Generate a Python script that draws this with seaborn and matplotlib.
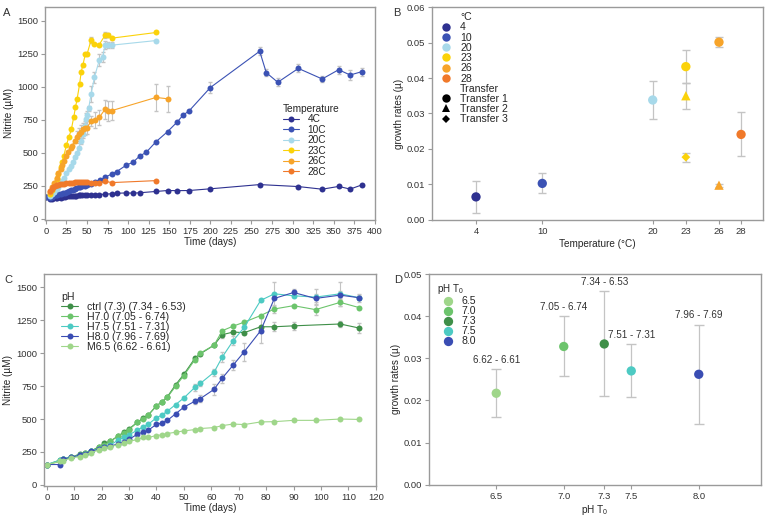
import numpy as np
import pandas as pd
import matplotlib
matplotlib.use("Agg")
import matplotlib.pyplot as plt
import seaborn as sns

# ---------------- Panel A: nitrite over time by temperature ----------------
temp_labels = ["4C", "10C", "20C", "23C", "26C", "28C"]
temp_colors = ["#2e3190", "#3b52b4", "#a7d9ea", "#fbd20a", "#f7a42a", "#f0792a"]

t4 = [0, 5, 7, 9, 12, 14, 16, 19, 21, 23, 26, 28, 30, 33, 35, 37, 40, 42, 44, 47, 50,
      55, 60, 65, 72, 80, 86, 98, 106, 114, 134, 148, 160, 174, 200, 260, 307, 336,
      356, 370, 384]
v4 = [164, 148, 152, 156, 158, 160, 163, 162, 166, 165, 170, 170, 172, 174, 176, 176,
      178, 180, 181, 180, 178, 180, 178, 184, 188, 190, 194, 197, 195, 198, 208, 215,
      214, 215, 228, 260, 245, 225, 246, 226, 257]
e4 = [0] * len(t4)

t10 = [0, 5, 7, 9, 12, 14, 16, 19, 21, 23, 26, 28, 30, 33, 35, 37, 40, 42, 44, 47, 50,
       55, 60, 66, 72, 80, 86, 98, 106, 114, 122, 134, 148, 160, 167, 174, 200, 260,
       268, 282, 307, 336, 356, 370, 384]
v10 = [164, 160, 168, 172, 178, 182, 186, 190, 196, 200, 206, 212, 216, 222, 228, 232,
       238, 242, 248, 252, 258, 268, 280, 295, 315, 340, 358, 408, 429, 476, 504, 585,
       661, 736, 787, 817, 995, 1270, 1108, 1035, 1140, 1060, 1130, 1090, 1115]
e10 = [0] * 36 + [40, 30, 25, 30, 30, 25, 30, 40, 30]

t20 = [5, 8, 10, 13, 15, 18, 20, 22, 25, 28, 30, 33, 35, 38, 40, 43, 45, 47, 49, 50,
       52, 55, 59, 65, 69, 72, 76, 80, 134]
v20 = [175, 190, 205, 225, 245, 270, 290, 310, 345, 380, 400, 430, 470, 500, 540, 590,
       640, 700, 760, 785, 837, 943, 1072, 1203, 1228, 1316, 1316, 1316, 1351]
e20 = [0] * 15 + [20, 30, 30, 40, 30, 20, 60, 40, 45, 40, 30, 25, 25, 0]

t23 = [5, 8, 10, 13, 15, 18, 20, 22, 25, 28, 31, 34, 36, 38, 41, 43, 45, 48, 50, 55,
       59, 65, 72, 76, 80, 134]
v23 = [185, 220, 250, 300, 340, 390, 430, 480, 560, 620, 678, 774, 845, 908, 1019,
       1114, 1165, 1248, 1246, 1354, 1324, 1321, 1392, 1394, 1369, 1412]
e23 = [0] * 19 + [25, 0, 0, 20, 15, 10, 0]

t26 = [5, 8, 10, 13, 15, 18, 20, 22, 25, 27, 30, 32, 35, 38, 40, 43, 45, 48, 50, 55,
       60, 65, 72, 76, 80, 134, 148]
v26 = [205, 240, 270, 310, 350, 380, 410, 440, 480, 510, 540, 555, 590, 620, 640, 660,
       680, 690, 690, 740, 750, 770, 830, 820, 820, 920, 910]
e26 = [0] * 13 + [45, 50, 50, 50, 55, 50, 40, 60, 55, 70, 75, 70, 100, 100]

t28 = [5, 7, 9, 11, 13, 15, 17, 20, 22, 25, 28, 30, 33, 35, 38, 40, 43, 45, 48, 50,
       55, 60, 65, 72, 80, 134]
v28 = [210, 225, 240, 250, 255, 258, 262, 265, 268, 270, 272, 273, 275, 276, 278, 280,
       282, 280, 278, 278, 275, 275, 272, 285, 275, 290]
e28 = [0] * len(t28)

# ---------------- Panel B: growth rates by temperature ----------------
b_temp = [4, 10, 20, 23, 23, 23, 26, 26, 28]
b_group = ["4", "10", "20", "23", "23", "23", "26", "26", "28"]
b_transfer = ["Transfer 1", "Transfer 1", "Transfer 1", "Transfer 1", "Transfer 2",
              "Transfer 3", "Transfer 1", "Transfer 2", "Transfer 1"]
b_rate = [0.0065, 0.0103, 0.0338, 0.0432, 0.0350, 0.0177, 0.0501, 0.0098, 0.0241]
b_low = [0.0020, 0.0075, 0.0285, 0.0387, 0.0312, 0.0163, 0.0486, 0.0094, 0.0180]
b_high = [0.0110, 0.0132, 0.0391, 0.0478, 0.0387, 0.0190, 0.0516, 0.0102, 0.0303]
b_levels = ["4", "10", "20", "23", "26", "28"]

# ---------------- Panel C: nitrite over time by pH ----------------
ph_labels = ["ctrl (7.3) (7.34 - 6.53)", "H7.0 (7.05 - 6.74)", "H7.5 (7.51 - 7.31)",
             "H8.0 (7.96 - 7.69)", "M6.5 (6.62 - 6.61)"]
ph_colors = ["#3f8f48", "#6cc46c", "#4dcac3", "#3a4db3", "#9fd68a"]

tc = [0, 5, 6, 9, 12, 14, 16, 19, 21, 23, 26, 28, 30, 33, 35, 37, 40, 42, 44, 47, 50,
      54, 56, 61, 64, 68, 72, 78, 83, 90, 98, 107, 114]
v_ctrl = [152, 190, 200, 210, 235, 240, 255, 290, 315, 330, 370, 400, 425, 475, 505,
          530, 600, 630, 670, 760, 840, 960, 995, 1060, 1140, 1160, 1155, 1200, 1200,
          1207, np.nan, 1221, 1190]
v_h70 = [152, 180, 195, 210, 230, 240, 255, 285, 305, 330, 370, 395, 420, 475, 500,
         530, 600, 630, 665, 750, 830, 950, 1000, 1060, 1170, 1205, 1235, 1285, 1335,
         1360, 1330, 1385, 1345]
v_h75 = [155, 190, 200, 210, 225, 235, 255, 275, 290, 300, 340, 360, 380, 415, 440,
         460, 510, 530, 560, 610, 660, 740, 770, 855, 970, 1095, 1195, 1400, 1450, 1435,
         1425, 1450, 1420]
v_h80 = [155, 155, 195, 210, 225, 235, 255, 270, 285, 295, 310, 325, 345, 385, 400,
         415, 460, 470, 490, 540, 590, 635, 655, 725, 810, 910, 1010, 1170, 1415, 1460,
         1415, 1440, 1420]
v_m65 = [155, 180, 185, 205, 215, 225, 245, 265, 280, 290, 305, 315, 330, 345, 360,
         360, 375, 380, 390, 400, 410, 420, 428, 435, 450, 462, 458, 478, 480, 490, 490,
         500, 497]
e_ctrl = [0] * 24 + [25, 0, 0, 0, 35, 30, 0, 25, 40]
e_h70 = [0] * 24 + [0, 0, 0, 0, 30, 0, 40, 30, 0]
e_h75 = [0] * 21 + [25, 20, 25, 35, 35, 40, 0, 90, 0, 60, 90, 30]
e_h80 = [0] * 20 + [15, 20, 25, 40, 35, 40, 70, 95, 0, 30, 30, 30, 20]
e_m65 = [0] * len(tc)

# ---------------- Panel D: growth rates by starting pH ----------------
d_ph = [6.5, 7.0, 7.3, 7.5, 8.0]
d_group = ["6.5", "7.0", "7.3", "7.5", "8.0"]
d_rate = [0.0217, 0.0328, 0.0334, 0.0270, 0.0262]
d_low = [0.0160, 0.0257, 0.0210, 0.0207, 0.0145]
d_high = [0.0275, 0.0400, 0.0460, 0.0333, 0.0380]
d_range = ["6.62 - 6.61", "7.05 - 6.74", "7.34 - 6.53", "7.51 - 7.31", "7.96 - 7.69"]
d_colors = ["#9fd68a", "#6cc46c", "#3f8f48", "#4dcac3", "#3a4db3"]

# ------------------------------------------------------------------
sns.set_style("ticks")
plt.rcParams["font.family"] = ["Liberation Sans", "DejaVu Sans"]
plt.rcParams["mathtext.default"] = "regular"
SPINE = "#9a9a9a"
ERR = "#c4c4c4"
FS = 6.8


def style_axes(ax):
    for s in ax.spines.values():
        s.set_visible(True)
        s.set_color(SPINE)
        s.set_linewidth(1.0)
    ax.tick_params(colors="#333333", labelsize=FS, length=3, width=0.8,
                   color=SPINE, pad=2)
    ax.xaxis.label.set_size(FS + 0.4)
    ax.yaxis.label.set_size(FS + 0.4)


def time_frame(series, names):
    rows = []
    for name, (t, v, e) in zip(names, series):
        for ti, vi, ei in zip(t, v, e):
            rows.append({"day": ti, "nitrite": vi, "err": ei, "group": name})
    return pd.DataFrame(rows).dropna(subset=["nitrite"])


fig = plt.figure(figsize=(7.67, 5.20), dpi=100)

# ---- A ----
axA = fig.add_axes([0.0587, 0.577, 0.430, 0.4095])
dfA = time_frame([(t4, v4, e4), (t10, v10, e10), (t20, v20, e20),
                  (t23, v23, e23), (t26, v26, e26), (t28, v28, e28)], temp_labels)
errA = dfA[dfA["err"] > 0]
axA.errorbar(errA["day"], errA["nitrite"], yerr=errA["err"], fmt="none",
             ecolor=ERR, elinewidth=0.8, capsize=1.5, zorder=1)
sns.lineplot(data=dfA, x="day", y="nitrite", hue="group", hue_order=temp_labels,
             palette=dict(zip(temp_labels, temp_colors)), marker="o", markersize=4.3,
             markeredgewidth=0, linewidth=0.8, errorbar=None, sort=True, ax=axA)
axA.set_xlim(-1, 400)
axA.set_ylim(-8, 1605)
axA.set_xticks(np.arange(0, 401, 25))
axA.set_yticks(np.arange(0, 1501, 250))
axA.set_xlabel("Time (days)", labelpad=1)
axA.set_ylabel("Nitrite (\u00b5M)", labelpad=2)
style_axes(axA)
axA.legend(title="Temperature", loc="upper left", bbox_to_anchor=(0.70, 0.58),
           frameon=False, fontsize=FS + 0.5, title_fontsize=FS + 0.5,
           handlelength=1.6, labelspacing=0.05, borderpad=0.2, alignment="left")

# ---- B ----
axB = fig.add_axes([0.563, 0.577, 0.432, 0.4095])
dfB = pd.DataFrame({"temp": b_temp, "\u00b0C": b_group, "Transfer": b_transfer,
                    "rate": b_rate, "low": b_low, "high": b_high})
axB.errorbar(dfB["temp"], dfB["rate"],
             yerr=[dfB["rate"] - dfB["low"], dfB["high"] - dfB["rate"]],
             fmt="none", ecolor=ERR, elinewidth=0.9, capsize=3, zorder=1)
sns.scatterplot(data=dfB, x="temp", y="rate", hue="\u00b0C", hue_order=b_levels,
                palette=dict(zip(b_levels, temp_colors)), style="Transfer",
                markers={"Transfer 1": "o", "Transfer 2": "^", "Transfer 3": "D"},
                s=45, linewidth=0, zorder=3, ax=axB)
# the diamond (Transfer 3) is drawn smaller than circles/triangles
coll = axB.collections[-1]
coll.set_sizes([20 if t == "Transfer 3" else 45 for t in b_transfer])
axB.set_xlim(0, 30)
axB.set_ylim(0, 0.06)
axB.set_xticks([4, 10, 20, 23, 26, 28])
axB.set_yticks(np.arange(0, 0.061, 0.01))
axB.yaxis.set_major_formatter(matplotlib.ticker.FormatStrFormatter("%.2f"))
axB.set_xlabel("Temperature (\u00b0C)", labelpad=2)
axB.set_ylabel("growth rates (\u00b5)", labelpad=2)
style_axes(axB)
legB = axB.legend(loc="upper left", bbox_to_anchor=(-0.01, 1.01), frameon=False,
                  fontsize=FS + 0.8, handletextpad=0.3, labelspacing=0.02,
                  borderpad=0.2, markerscale=0.9)
for h, txt in zip(legB.legend_handles, legB.get_texts()):
    if txt.get_text().startswith("Transfer "):
        h.set_markerfacecolor("black")
        h.set_markeredgecolor("black")
        if txt.get_text() == "Transfer 3":
            h.set_markersize(h.get_markersize() * 0.65)

# ---- C ----
axC = fig.add_axes([0.0574, 0.0654, 0.4326, 0.4076])
dfC = time_frame([(tc, v_ctrl, e_ctrl), (tc, v_h70, e_h70), (tc, v_h75, e_h75),
                  (tc, v_h80, e_h80), (tc, v_m65, e_m65)], ph_labels)
errC = dfC[dfC["err"] > 0]
axC.errorbar(errC["day"], errC["nitrite"], yerr=errC["err"], fmt="none",
             ecolor=ERR, elinewidth=0.8, capsize=1.5, zorder=1)
sns.lineplot(data=dfC, x="day", y="nitrite", hue="group", hue_order=ph_labels,
             palette=dict(zip(ph_labels, ph_colors)), marker="o", markersize=4.3,
             markeredgewidth=0, linewidth=0.8, errorbar=None, sort=True, ax=axC)
axC.set_xlim(-1, 120)
axC.set_ylim(-8, 1600)
axC.set_xticks(np.arange(0, 121, 10))
axC.set_yticks(np.arange(0, 1501, 250))
axC.set_xlabel("Time (days)", labelpad=1)
axC.set_ylabel("Nitrite (\u00b5M)", labelpad=2)
style_axes(axC)
axC.legend(title="pH", loc="upper left", bbox_to_anchor=(0.03, 0.95), frameon=False,
           fontsize=FS + 0.8, title_fontsize=FS + 0.8, handlelength=1.6,
           labelspacing=0.0, borderpad=0.2, alignment="left")

# ---- D ----
axD = fig.add_axes([0.559, 0.068, 0.433, 0.405])
dfD = pd.DataFrame({"ph": d_ph, "group": d_group, "rate": d_rate,
                    "low": d_low, "high": d_high, "range": d_range})
axD.errorbar(dfD["ph"], dfD["rate"],
             yerr=[dfD["rate"] - dfD["low"], dfD["high"] - dfD["rate"]],
             fmt="none", ecolor=ERR, elinewidth=0.9, capsize=3.5, zorder=1)
sns.scatterplot(data=dfD, x="ph", y="rate", hue="group", hue_order=d_group,
                palette=dict(zip(d_group, d_colors)), s=45, linewidth=0, zorder=3,
                ax=axD)
for x, hi, txt in zip(d_ph, d_high, d_range):
    axD.annotate(txt, (x, hi), xytext=(0, 3), textcoords="offset points",
                 ha="center", va="bottom", fontsize=FS + 0.3, color="#333333")
axD.set_xlim(6.0, 8.46)
axD.set_ylim(0, 0.05)
axD.set_xticks(d_ph)
axD.set_xticklabels(["6.5", "7.0", "7.3", "7.5", "8.0"])
axD.set_yticks(np.arange(0, 0.051, 0.01))
axD.yaxis.set_major_formatter(matplotlib.ticker.FormatStrFormatter("%.2f"))
axD.set_xlabel("pH T$_0$", labelpad=2)
axD.set_ylabel("growth rates (\u00b5)", labelpad=2)
style_axes(axD)
axD.legend(title="pH T$_0$", loc="upper left", bbox_to_anchor=(0.0, 1.0),
           frameon=False, fontsize=FS + 0.8, title_fontsize=FS + 0.3,
           handletextpad=0.3, labelspacing=0.0, borderpad=0.3, alignment="left")

# panel letters
for x, y, letter in [(0.004, 0.975, "A"), (0.512, 0.975, "B"),
                     (0.006, 0.462, "C"), (0.514, 0.462, "D")]:
    fig.text(x, y, letter, fontsize=8, color="#333333", ha="left", va="center")

fig.savefig("out.png", dpi=100)
